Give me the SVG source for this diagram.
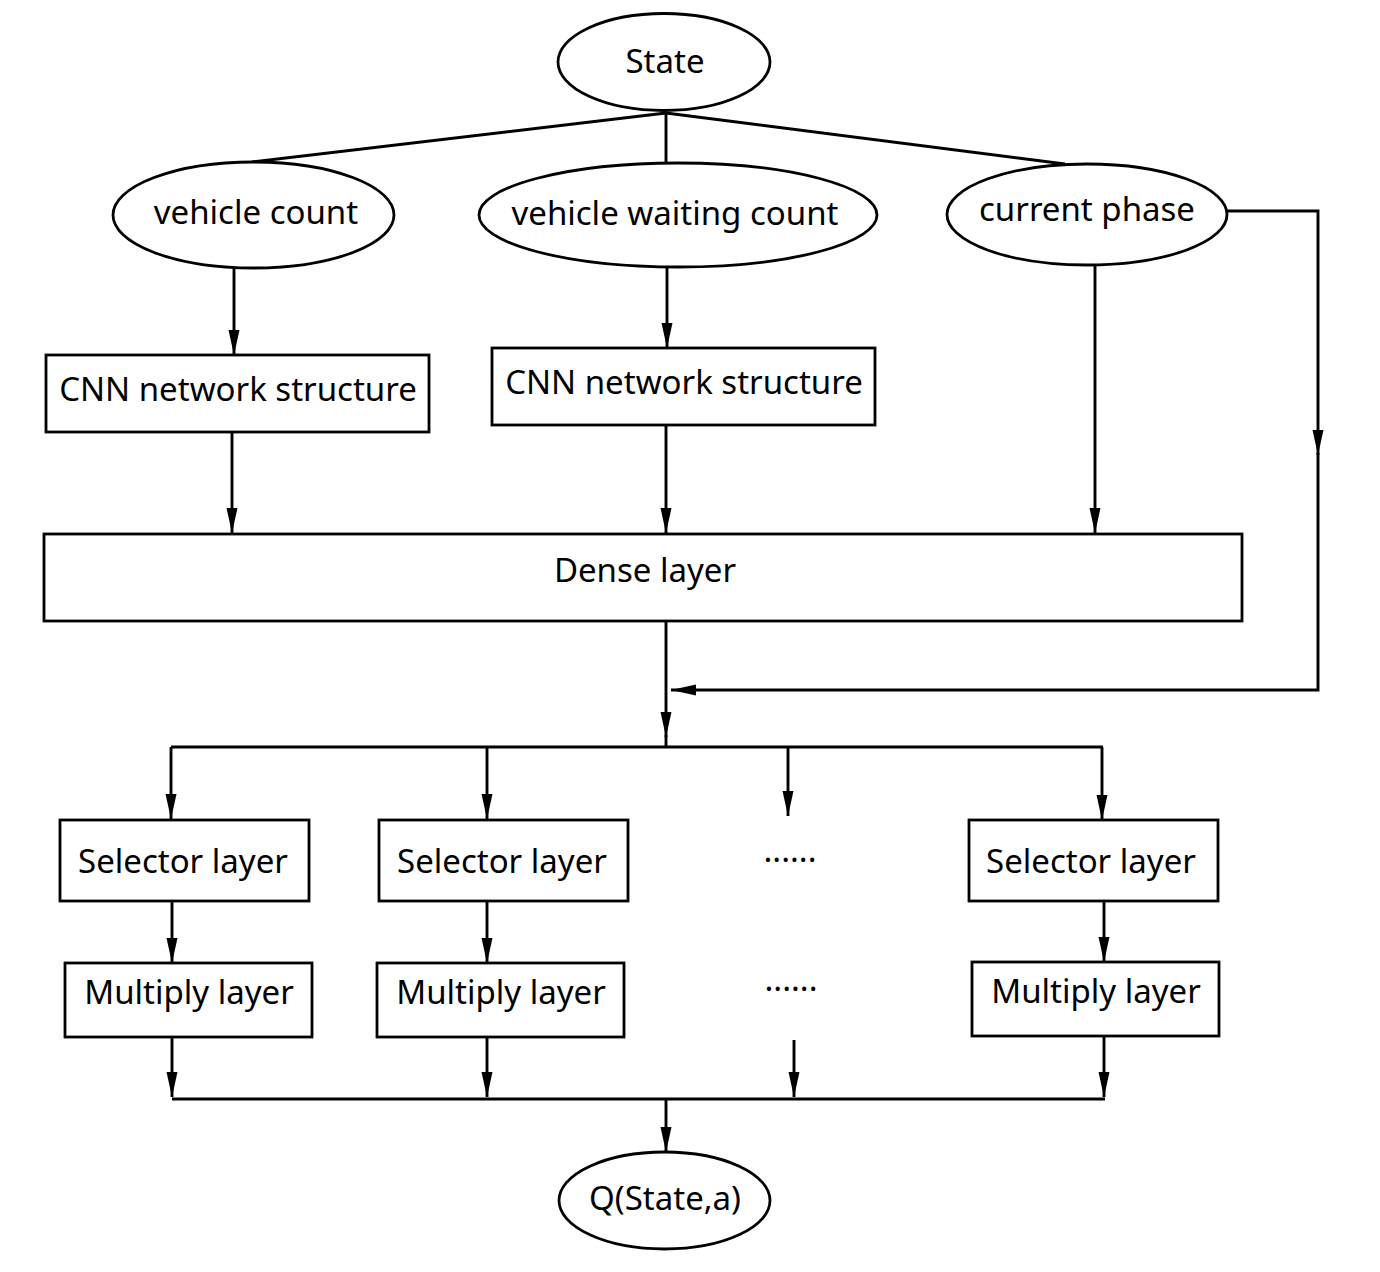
<svg xmlns="http://www.w3.org/2000/svg" width="1380" height="1272" viewBox="0 0 1380 1272">
<style>
.shape{fill:#fff;stroke:#000;stroke-width:2.8}
.lbl{font-family:"Noto Sans","Open Sans","DejaVu Sans",sans-serif;font-size:33px;fill:#000;text-anchor:middle}
.c{fill:none;stroke:#000;stroke-width:2.9}
.a{marker-end:url(#ah)}
</style>
<defs>
<marker id="ah" markerUnits="userSpaceOnUse" markerWidth="26" markerHeight="12" refX="25" refY="6" orient="auto" viewBox="0 0 26 12">
<path d="M0,0.5 L25,6 L0,11.5 z" fill="#000"/>
</marker>
</defs>
<rect width="1380" height="1272" fill="#fff"/>
<g id="connectors">
<path class="c" d="M666,113 L252,162"/>
<path class="c" d="M666,113 L1065,164"/>
<path class="c" d="M666,113 V163"/>
<path class="c a" d="M234,268 V355"/>
<path class="c a" d="M667,267 V348"/>
<path class="c a" d="M232,432 V533"/>
<path class="c a" d="M666,425 V533"/>
<path class="c a" d="M1095,265 V533"/>
<path class="c a" d="M1227,211 H1318 V455"/>
<path class="c a" d="M1318,453 V690 H671"/>
<path class="c a" d="M666,621 V737"/>
<path class="c" d="M666,735 V747"/>
<path class="c" d="M171,747 H1103"/>
<path class="c a" d="M171,747 V819"/>
<path class="c a" d="M487,747 V819"/>
<path class="c a" d="M788,747 V816"/>
<path class="c a" d="M1102,747 V820"/>
<path class="c a" d="M172,901 V963"/>
<path class="c a" d="M487,901 V963"/>
<path class="c a" d="M1104,902 V962"/>
<path class="c a" d="M172,1037 V1097"/>
<path class="c a" d="M487,1037 V1097"/>
<path class="c a" d="M794,1040 V1097"/>
<path class="c a" d="M1104,1037 V1097"/>
<path class="c" d="M172,1099 H1105"/>
<path class="c a" d="M666,1099 V1152"/>
</g>
<g id="state"><ellipse class="shape" cx="664" cy="62" rx="106" ry="48.5"/><text class="lbl" x="665" y="73">State</text></g>
<g id="vehicle-count"><ellipse class="shape" cx="253.5" cy="215" rx="140.5" ry="53"/><text class="lbl" x="256" y="224">vehicle count</text></g>
<g id="vehicle-waiting-count"><ellipse class="shape" cx="678" cy="215" rx="199" ry="52"/><text class="lbl" x="675" y="225">vehicle waiting count</text></g>
<g id="current-phase"><ellipse class="shape" cx="1087" cy="214.5" rx="140" ry="50.5"/><text class="lbl" x="1087" y="221">current phase</text></g>
<g id="cnn1"><rect class="shape" x="46" y="355" width="383" height="77"/><text class="lbl" x="238" y="401">CNN network structure</text></g>
<g id="cnn2"><rect class="shape" x="492" y="348" width="383" height="77"/><text class="lbl" x="684" y="394">CNN network structure</text></g>
<g id="dense"><rect class="shape" x="44" y="534" width="1198" height="87"/><text class="lbl" x="645" y="582">Dense layer</text></g>
<g id="selector1"><rect class="shape" x="60" y="820" width="249" height="81"/><text class="lbl" x="183" y="873">Selector layer</text></g>
<g id="selector2"><rect class="shape" x="379" y="820" width="249" height="81"/><text class="lbl" x="502" y="873">Selector layer</text></g>
<g id="selector-dots"><text class="lbl" x="790" y="862">......</text></g>
<g id="selector3"><rect class="shape" x="969" y="820" width="249" height="81"/><text class="lbl" x="1091" y="873">Selector layer</text></g>
<g id="multiply1"><rect class="shape" x="65" y="963" width="247" height="74"/><text class="lbl" x="189" y="1004">Multiply layer</text></g>
<g id="multiply2"><rect class="shape" x="377" y="963" width="247" height="74"/><text class="lbl" x="501" y="1004">Multiply layer</text></g>
<g id="multiply-dots"><text class="lbl" x="791" y="991">......</text></g>
<g id="multiply3"><rect class="shape" x="972" y="962" width="247" height="74"/><text class="lbl" x="1096" y="1003">Multiply layer</text></g>
<g id="q"><ellipse class="shape" cx="664.5" cy="1200.5" rx="105.5" ry="48.5"/><text class="lbl" x="665" y="1210">Q(State,a)</text></g>
</svg>
